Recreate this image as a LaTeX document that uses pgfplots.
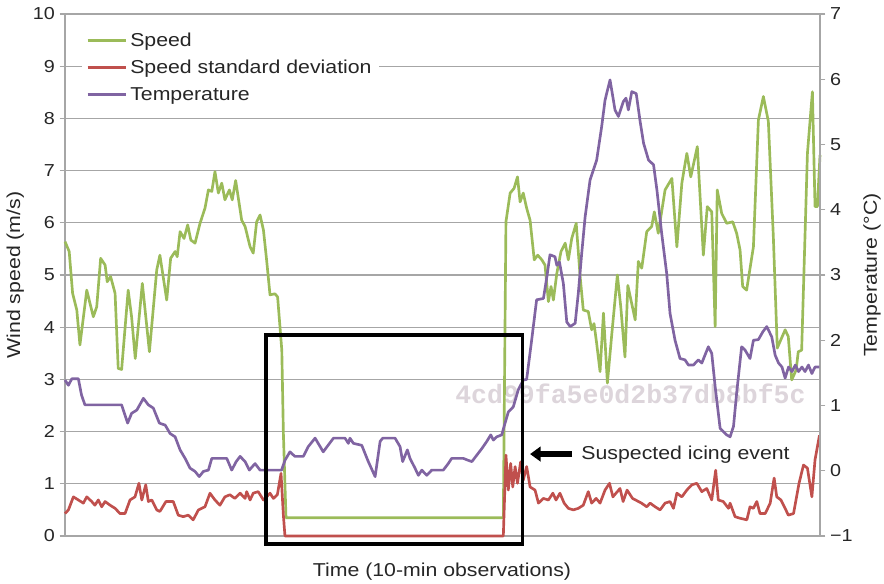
\documentclass[border=0pt]{standalone}
\usepackage{pgfplots}
\pgfplotsset{compat=1.18}
\usepackage{pgfplotstable}
\usetikzlibrary{arrows.meta}
\usepackage{fontspec}
\setmainfont{Liberation Sans}[FakeStretch=1.14]
\newfontfamily\hashfont{Liberation Mono}

\definecolor{spd}{HTML}{9BBB59}
\definecolor{sdev}{HTML}{C0504D}
\definecolor{tmp}{HTML}{8064A2}
\definecolor{gridc}{HTML}{A6A6A6}
\definecolor{wm}{HTML}{DDD5DB}

% Wind speed (m/s) per 10-min observation
\pgfplotstableread{
x y
0 5.64
1.6 5.45
2.9 4.65
4.5 4.33
5.7 3.66
8.3 4.71
10.8 4.20
12.1 4.39
13.6 5.32
15.3 5.19
16.1 4.87
17.4 4.97
19.1 4.65
20.3 3.21
21.6 3.19
24.1 4.71
25.4 4.20
26.8 3.40
29.5 4.84
32.2 3.53
35.0 5.10
36.2 5.38
38.8 4.52
40.3 5.32
42.0 5.45
42.8 5.35
43.9 5.83
45.4 5.70
46.8 5.96
48.0 5.67
49.6 5.61
51.5 5.99
53.4 6.28
54.7 6.63
56.0 6.60
57.2 6.98
58.5 6.57
59.8 6.76
61.0 6.44
62.7 6.63
63.8 6.44
65.1 6.81
67.4 6.05
68.7 5.93
70.6 5.54
71.8 5.42
73.1 6.02
74.4 6.15
75.7 5.86
76.9 5.29
78.2 4.62
80.1 4.64
81.1 4.58
82.0 4.01
82.7 3.56
83.3 1.97
84.3 0.35
167.2 0.35
168.2 6.02
169.8 6.57
171.3 6.66
172.6 6.88
173.6 6.40
174.8 6.57
176.1 6.28
177.4 6.05
179.0 5.29
180.3 5.38
181.9 5.29
183.1 5.19
184.4 4.49
185.4 4.78
186.3 4.52
187.6 5.03
189.2 5.45
190.8 5.61
192.0 5.29
193.3 5.70
195.0 5.99
196.5 4.97
197.7 4.33
199.6 4.30
200.9 3.95
201.8 4.07
202.8 3.69
204.1 3.15
205.4 4.27
206.9 2.93
208.6 3.88
210.7 5.00
212.0 4.39
213.6 3.43
214.7 4.80
217.5 4.14
218.7 5.26
220.0 5.13
221.9 5.83
223.8 5.93
224.8 6.21
226.3 5.80
228.9 6.63
231.5 6.85
233.4 5.54
235.3 6.76
237.2 7.33
238.7 6.88
241.2 7.46
243.5 5.38
245.0 6.31
246.7 6.21
248.0 4.01
248.8 6.63
250.5 6.18
252.4 5.99
254.7 6.02
256.2 5.80
257.5 5.48
258.5 4.78
260.0 4.71
262.6 5.54
264.5 7.97
266.4 8.42
268.3 7.94
270.2 5.73
271.7 3.60
274.7 3.95
275.9 3.82
277.2 2.99
278.9 3.18
279.7 3.53
281.0 3.56
283.2 7.33
285.1 8.51
286.1 6.31
287.0 6.31
288.0 7.30
}\speedtab

% Standard deviation of wind speed (m/s)
\pgfplotstableread{
x y
0 0.43
1.3 0.50
3.2 0.75
5.1 0.69
7.0 0.63
8.3 0.75
10.2 0.66
11.4 0.59
12.7 0.69
14.0 0.56
15.3 0.66
17.2 0.59
19.1 0.53
21.0 0.43
22.9 0.43
24.8 0.69
26.7 0.75
28.2 1.01
29.3 0.69
30.8 0.98
31.8 0.66
33.1 0.69
35.0 0.50
36.2 0.47
38.5 0.66
41.3 0.66
43.2 0.40
45.1 0.37
47.0 0.40
48.9 0.31
50.9 0.50
53.4 0.56
55.3 0.82
57.2 0.69
59.1 0.59
61.0 0.75
62.9 0.79
64.8 0.72
66.8 0.82
68.7 0.72
69.3 0.85
70.6 0.69
71.8 0.82
73.7 0.85
75.7 0.69
76.9 0.75
78.2 0.82
79.5 0.72
81.0 0.79
82.4 1.20
83.3 0.40
83.9 0.00
167.2 0.00
168.2 1.55
169.1 0.88
170.0 1.39
170.8 0.94
171.7 1.33
172.6 1.01
173.8 1.42
174.8 1.07
176.1 1.33
177.4 0.94
179.3 0.88
180.6 0.63
182.5 0.72
184.4 0.69
186.1 0.82
187.3 0.69
188.8 0.82
190.4 0.63
192.0 0.53
193.9 0.50
195.8 0.53
197.7 0.59
199.6 0.85
200.9 0.63
202.6 0.72
204.1 0.63
206.0 0.88
207.7 1.01
209.0 0.75
211.7 0.91
212.9 0.66
214.4 0.88
216.5 0.72
219.9 0.63
221.9 0.56
223.2 0.63
225.1 0.56
227.0 0.50
228.9 0.63
230.8 0.66
232.1 0.53
233.4 0.82
235.3 0.75
237.2 0.88
239.1 0.98
241.0 1.01
242.9 0.85
244.8 0.91
246.7 0.69
248.2 1.26
249.2 0.69
251.1 0.66
253.1 0.53
253.7 0.63
255.6 0.37
257.5 0.34
260.1 0.31
261.3 0.56
262.6 0.53
263.9 0.66
265.1 0.43
267.1 0.43
269.0 0.63
270.5 1.11
271.5 0.75
273.1 0.69
274.7 0.53
275.9 0.40
277.9 0.43
280.0 1.01
281.7 1.36
283.2 1.30
284.9 0.75
286.1 1.46
287.8 1.93
}\sdevtab

% Air temperature (deg C)
\pgfplotstableread{
x y
0 1.39
1.3 1.31
2.6 1.41
5.1 1.41
6.3 1.16
7.6 1.01
21.6 1.01
22.9 0.85
23.9 0.73
25.4 0.88
27.4 0.93
29.9 1.11
31.8 1.01
33.7 0.96
36.0 0.73
38.2 0.70
40.1 0.57
42.0 0.52
43.9 0.32
45.8 0.19
47.7 0.04
49.6 -0.01
51.2 -0.09
52.8 -0.01
54.7 0.01
56.0 0.19
61.7 0.19
63.6 0.01
65.3 0.14
66.8 0.22
68.7 0.14
70.3 0.01
72.5 0.11
74.4 0.01
82.6 0.01
83.9 0.16
85.8 0.29
87.7 0.22
90.9 0.22
92.8 0.37
95.4 0.50
98.5 0.29
102.4 0.50
106.8 0.50
108.1 0.42
108.7 0.50
110.0 0.42
113.2 0.39
115.7 0.14
118.3 -0.09
120.2 0.45
121.2 0.50
125.9 0.50
127.8 0.37
128.8 0.14
130.6 0.32
131.6 0.19
133.5 0.04
134.8 -0.07
136.1 0.01
138.0 -0.07
139.9 0.01
144.3 0.01
146.2 0.11
147.5 0.19
151.9 0.19
153.8 0.16
155.2 0.14
157.1 0.24
159.0 0.34
160.9 0.45
162.4 0.55
163.4 0.47
164.7 0.52
166.6 0.55
167.5 0.68
169.1 0.90
171.0 0.98
172.9 1.24
174.8 1.39
176.1 1.40
178.0 2.00
179.9 2.62
182.5 2.64
183.8 2.97
185.0 3.31
186.9 3.28
187.6 3.15
188.6 3.20
190.1 2.87
191.4 2.28
192.7 2.21
194.6 2.26
195.8 2.72
197.1 3.33
198.4 3.89
200.3 4.46
202.8 4.76
204.7 5.27
206.0 5.68
207.9 5.99
209.8 5.53
211.1 5.43
213.0 5.66
214.0 5.71
214.9 5.53
216.2 5.81
217.9 5.78
219.4 5.35
220.7 5.02
222.6 4.76
224.5 4.69
225.8 4.30
227.6 3.64
229.5 3.03
230.8 2.41
232.7 2.00
234.6 1.72
236.5 1.70
237.8 1.62
239.7 1.62
241.6 1.70
242.9 1.65
245.4 1.90
246.7 1.80
248.0 1.29
249.9 0.65
252.4 0.55
253.7 0.52
255.0 0.68
256.2 1.19
258.1 1.90
259.4 1.85
261.3 1.72
262.6 2.00
264.5 2.01
266.2 2.13
267.7 2.21
269.6 2.05
270.9 1.77
272.2 1.65
273.5 1.59
274.7 1.42
276.0 1.59
277.3 1.52
278.6 1.62
279.8 1.52
281.1 1.59
282.3 1.52
283.6 1.62
284.9 1.49
286.1 1.59
287.8 1.59
}\temptab

\pgfplotsset{
  common/.style={
    at={(48.75pt,-402pt)}, anchor=south west,
    scale only axis, width=566.25pt, height=391.5pt,
    xmin=0, xmax=288, xtick=\empty,
    clip=false,
    axis line style={gridc, line width=1pt, -},
    tick style={gridc, line width=1pt},
    tick align=outside, major tick length=4pt,
    ticklabel style={font=\fontsize{13}{15}\selectfont, text=black!85},
    label style={font=\fontsize{14}{16}\selectfont, text=black!85},
  },
}

\begin{document}
\begin{tikzpicture}
\useasboundingbox (0,0) rectangle (663pt,-438pt);

% light hash stamp behind the curves
\node[anchor=base west, inner sep=0pt, text=wm, font=\hashfont\bfseries\fontsize{19.9}{22}\selectfont]
  at (341.25pt,-302.25pt) {4cd99fa5e0d2b37db8bf5c};

\begin{axis}[common,
  ymin=0, ymax=10,
  ytick={0,1,...,10}, yticklabels={0,1,2,3,4,5,6,7,8,9,10},
  axis x line*=bottom, axis y line*=left,
  ymajorgrids, grid style={gridc, line width=1pt},
  xlabel={Time (10-min observations)},
  xlabel style={at={(axis description cs:0.4993,-0.069)}, anchor=center},
  ylabel={Wind speed (m/s)},
  ylabel style={at={(axis description cs:-0.066,0.5)}, anchor=center},
]
\addplot[spd, line width=2pt, line join=round] table {\speedtab};
\addplot[sdev, line width=2pt, line join=round] table {\sdevtab};
\coordinate (boxA) at (axis cs:76.7,3.85);
\coordinate (boxB) at (axis cs:174.6,-0.153);
\coordinate (arrTip) at (axis cs:177.4,1.57);
\coordinate (arrEnd) at (axis cs:193.4,1.57);
\coordinate (noteAt) at (axis cs:196.9,1.456);
\end{axis}

\begin{axis}[common,
  ymin=-1, ymax=7,
  ytick={-1,0,...,7}, yticklabels={−1,0,1,2,3,4,5,6,7},
  axis x line=none, axis y line*=right,
  ylabel={Temperature (°C)},
  ylabel style={at={(axis description cs:1.069,0.5)}, anchor=center, rotate=0},
  legend style={
    at={(rel axis cs:0.0225,0.975)}, anchor=north west,
    draw=none, fill=white, inner xsep=3pt, inner ysep=1.5pt,
    row sep=3.8pt,
    font=\fontsize{14}{16}\selectfont, text=black!85,
    nodes={inner sep=2.5pt},
  },
  legend cell align=left,
  legend image code/.code={%
    \path (0pt,0pt) -- (28.5pt,0pt);
    \draw[#1] (1.5pt,0pt) -- (25.5pt,0pt);},
]
\addlegendimage{spd, line width=2pt}
\addlegendentry{Speed}
\addlegendimage{sdev, line width=2pt}
\addlegendentry{Speed standard deviation}
\addplot[tmp, line width=2pt, line join=round] table {\temptab};
\addlegendentry{Temperature}
\end{axis}

% frame around the zero-speed stretch and its note
\draw[black, line width=2.5pt] (boxA) rectangle (boxB);
\draw[black, line width=4.5pt, -{Triangle[length=8pt,width=11pt]}] (arrEnd) -- (arrTip);
\node[anchor=base west, inner sep=0pt, font=\fontsize{14}{16}\selectfont, text=black!85] at (noteAt) {Suspected icing event};
\end{tikzpicture}
\end{document}
